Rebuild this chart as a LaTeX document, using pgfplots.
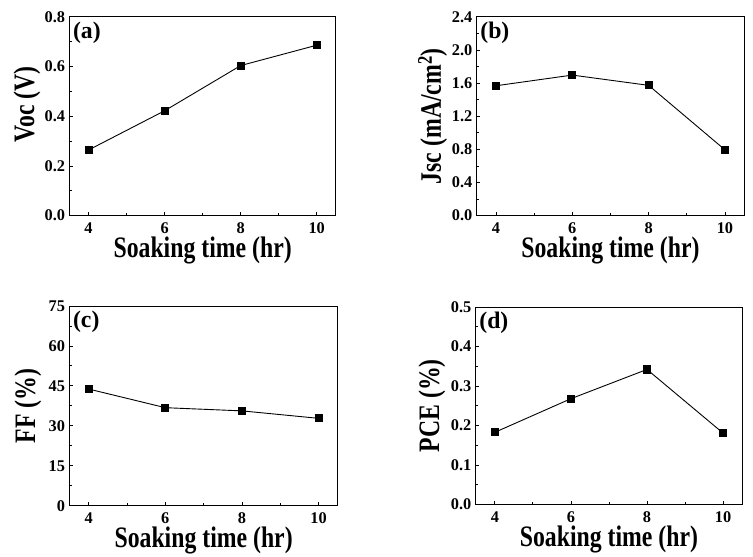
\documentclass[border=0pt]{standalone}
\usepackage{pgfplots}
\pgfplotsset{compat=1.18}
\usepackage{fontspec}
\setmainfont{Liberation Serif}
\newcommand{\lab}[1]{\scalebox{0.8}[1]{#1}}
\begin{document}
\tikzset{plab/.style={anchor=north west, inner sep=2bp, font=\fontsize{24}{24}\selectfont\bfseries}}
\pgfplotsset{
  panel/.style={
    scale only axis,
    anchor=south west,
    xmin=3.5, xmax=10.5,
    xtick={4,6,8,10},
    minor xtick={5,7,9},
    minor y tick num=1,
    tick pos=left,
    tick align=inside,
    major tick length=3.5bp,
    minor tick length=2.2bp,
    axis line style={line width=0.9bp},
    every tick/.style={black, line width=0.8bp},
    /pgf/number format/assume math mode=true,
    tick label style={font=\fontsize{16.5}{16.5}\selectfont\bfseries},
    xticklabel style={anchor=base, inner sep=0pt, yshift=-18bp},
    yticklabel style={xshift=-1bp},
    label style={font=\fontsize{30}{30}\selectfont\bfseries},
    xlabel={\lab{Soaking time (hr)}},
    xlabel style={at={(axis description cs:0.5,0)}, anchor=base, inner sep=0pt, yshift=-42bp},
    yticklabel style={/pgf/number format/fixed, /pgf/number format/fixed zerofill},
  },
  curve/.style={black, line width=0.9bp, mark=square*, mark size=3.6bp, mark options={solid, fill=black}},
}
\begin{tikzpicture}
\useasboundingbox (0,0) rectangle (753bp,560bp);
% (a)
\begin{axis}[panel, at={(65bp,343bp)}, width=268bp, height=200bp,
  ymin=0, ymax=0.8, ytick={0,0.2,0.4,0.6,0.8},
  yticklabel style={/pgf/number format/precision=1},
  ylabel style={at={(axis description cs:-0.16,0.56)}, anchor=center},
  ylabel={\lab{Voc (V)}}]
\addplot[curve] coordinates {(4,0.264) (6,0.422) (8,0.604) (10,0.686)};
\node[plab] at (axis description cs:0.005,0.985) {(a)};
\end{axis}
% (b)
\begin{axis}[panel, at={(475bp,343bp)}, width=269bp, height=200bp,
  ymin=0, ymax=2.4, ytick={0,0.4,0.8,1.2,1.6,2.0,2.4},
  yticklabel style={/pgf/number format/precision=1},
  ylabel style={at={(axis description cs:-0.165,0.5)}, anchor=center},
  ylabel={\lab{Jsc (mA/cm$^{\mathbf{2}}$)}}]
\addplot[curve] coordinates {(4,1.568) (6,1.697) (8,1.573) (10,0.794)};
\node[plab] at (axis description cs:0.005,0.985) {(b)};
\end{axis}
% (c)
\begin{axis}[panel, at={(65bp,51bp)}, width=270bp, height=201bp,
  ymin=0, ymax=75, ytick={0,15,30,45,60,75},
  yticklabel style={/pgf/number format/precision=0},
  ylabel style={at={(axis description cs:-0.155,0.5)}, anchor=center},
  ylabel={\lab{FF (\%)}}]
\addplot[curve] coordinates {(4,43.8) (6,36.8) (8,35.6) (10,32.8)};
\node[plab] at (axis description cs:0.005,0.985) {(c)};
\end{axis}
% (d)
\begin{axis}[panel, at={(474bp,52bp)}, width=268bp, height=199bp,
  ymin=0, ymax=0.5, ytick={0,0.1,0.2,0.3,0.4,0.5},
  yticklabel style={/pgf/number format/precision=1},
  ylabel style={at={(axis description cs:-0.165,0.5)}, anchor=center},
  ylabel={\lab{PCE (\%)}}]
\addplot[curve] coordinates {(4,0.183) (6,0.268) (8,0.342) (10,0.181)};
\node[plab] at (axis description cs:0.005,0.985) {(d)};
\end{axis}
\end{tikzpicture}
\end{document}
